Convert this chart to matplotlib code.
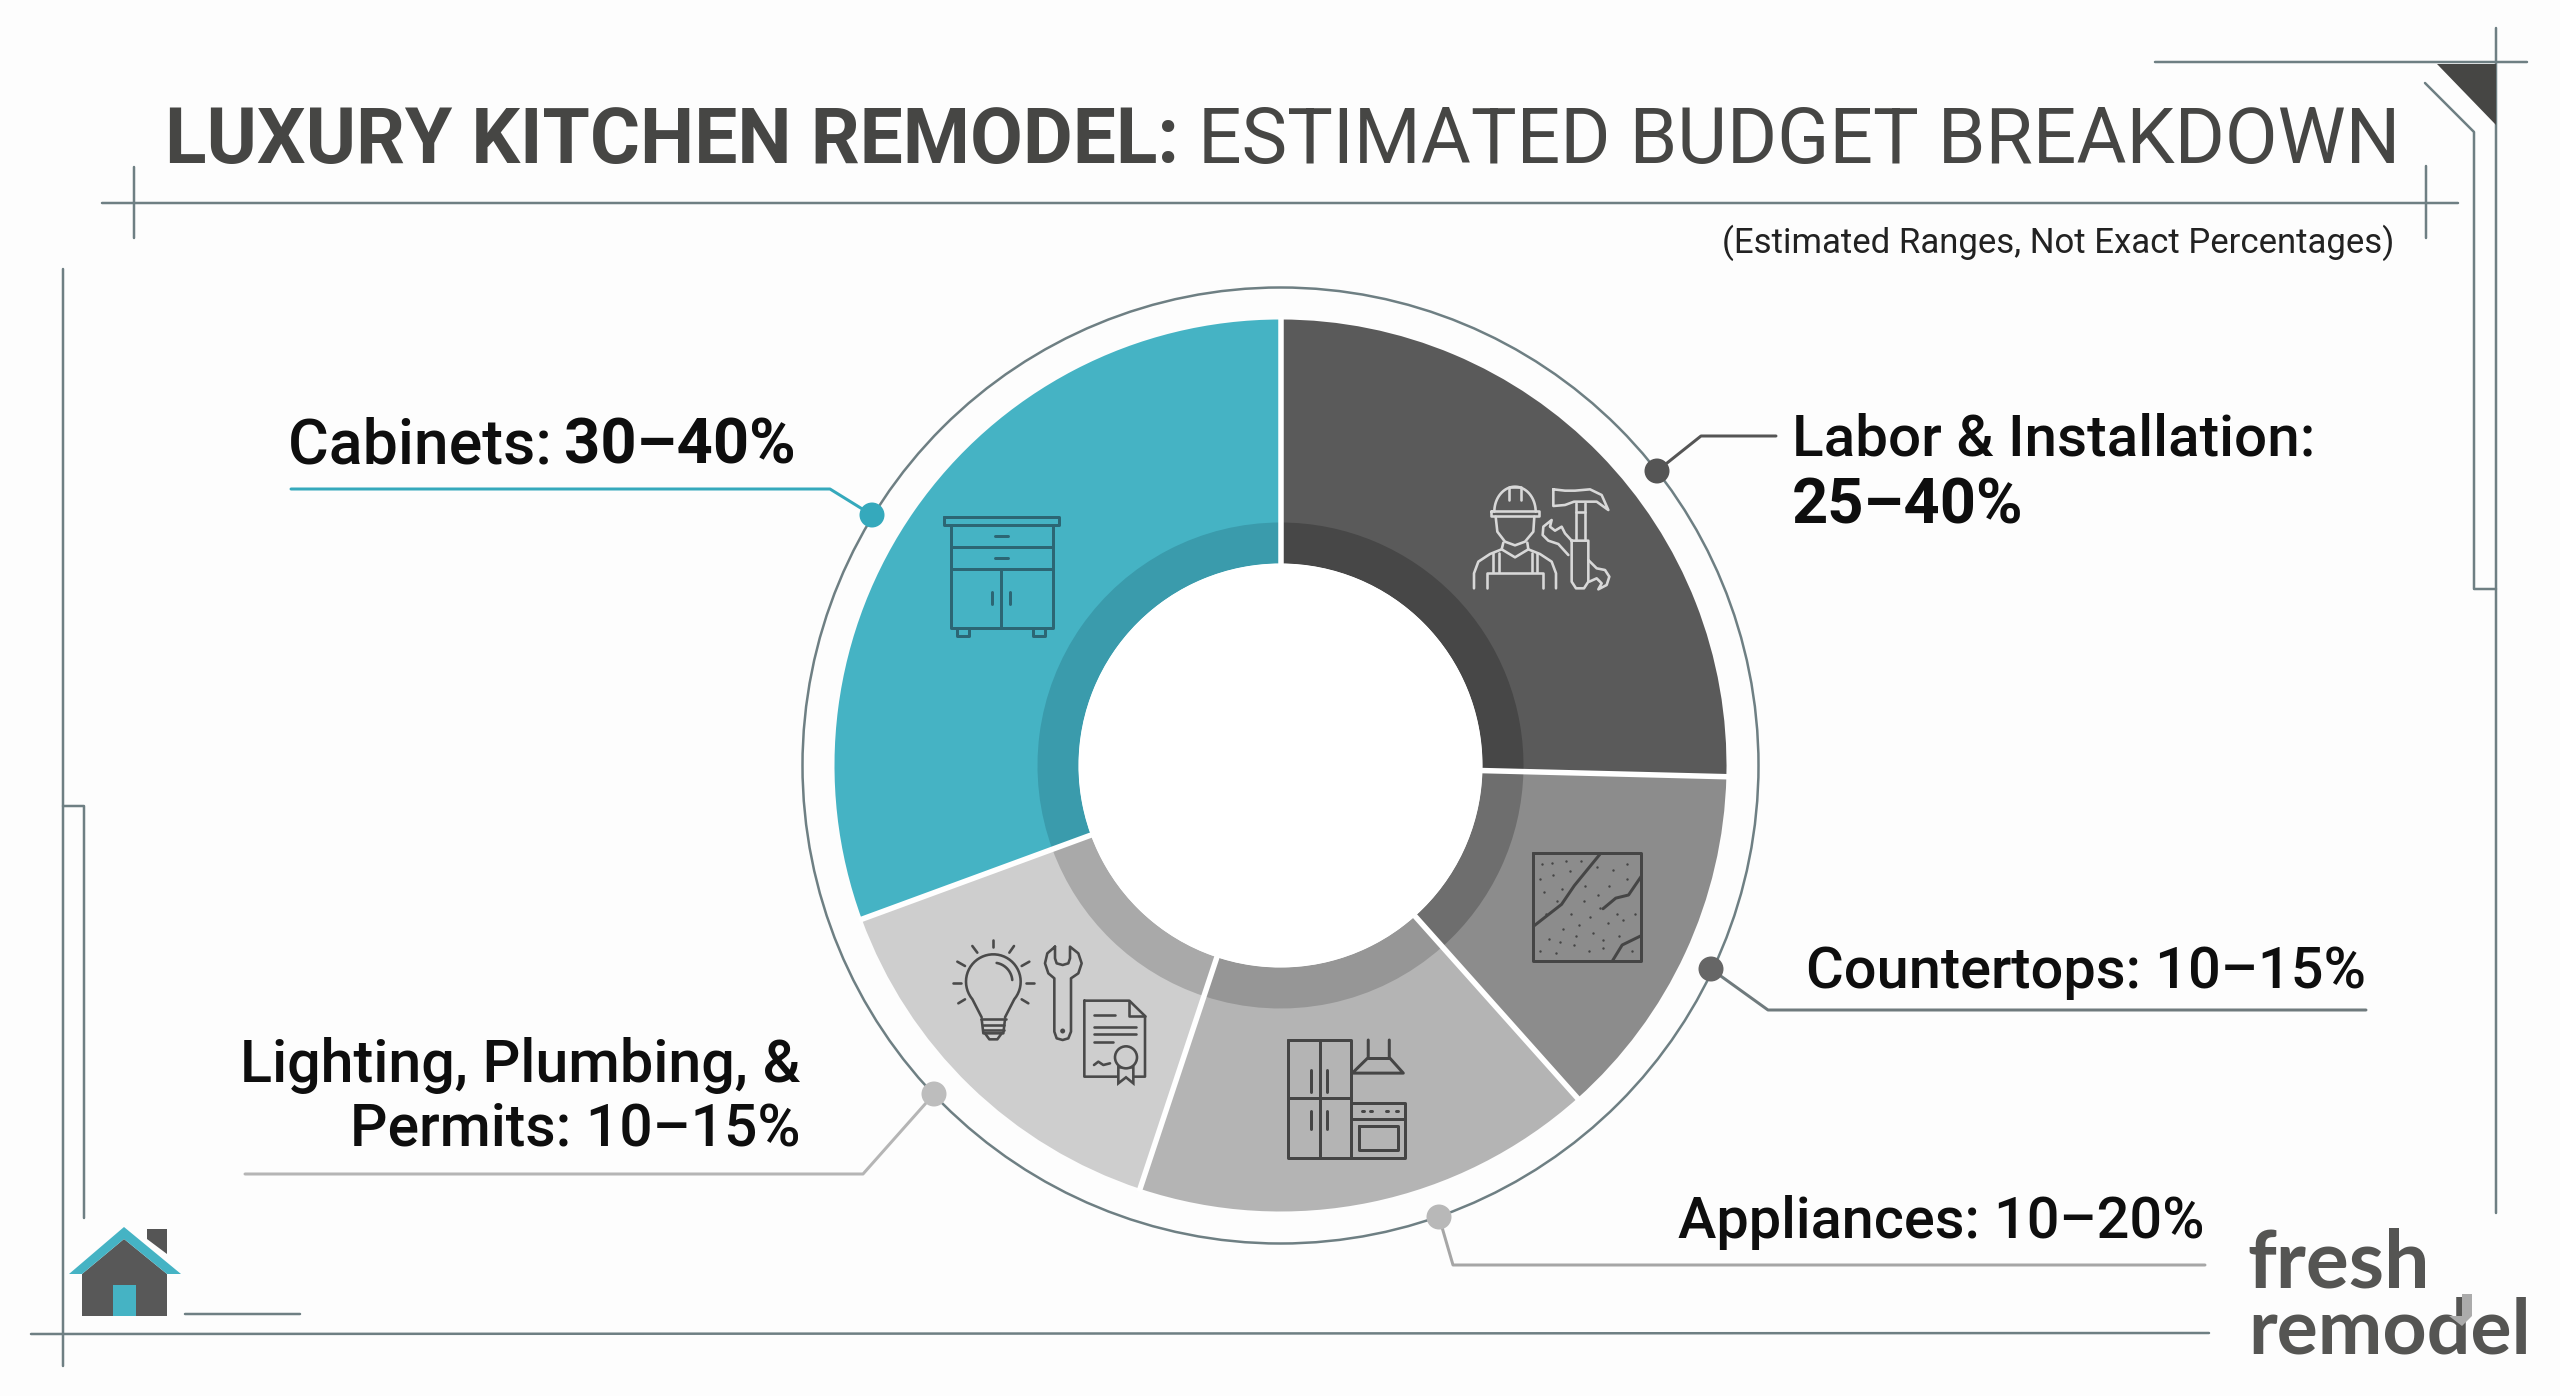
import numpy as np
import matplotlib
matplotlib.use("Agg")
import matplotlib.pyplot as plt
from matplotlib.patches import Circle, Polygon, Rectangle

W, H = 2560, 1396

categories = ["Labor & Installation", "Countertops", "Appliances", "Lighting, Plumbing, & Permits", "Cabinets"]
ranges = ["25–40%", "10–15%", "10–20%", "10–15%", "30–40%"]
# slice sizes as drawn, in percent of the ring
shares = [25.4, 13.0, 16.7, 14.3, 30.6]
slice_colors = ["#5A5A5A", "#8C8C8C", "#B4B4B4", "#CECECE", "#45B3C4"]
band_colors = ["#474747", "#6E6E6E", "#969696", "#A9A9A9", "#3A9BAC"]
dot_colors = ["#555555", "#666666", "#B8B8B8", "#BDBDBD", "#35A9BC"]
line_colors = ["#555555", "#6F7A7D", "#A6A6A6", "#B5B5B5", "#35A9BC"]

FRAME = "#6E7F83"
INK = "#464644"
TEXT = "#0E0E0E"
CX, CY = 1280.5, 765.5
R_OUT, R_BAND, R_HOLE = 446, 243, 202


def yy(y):
    return H - y


fig = plt.figure(figsize=(W / 100, H / 100), dpi=100, facecolor="#FDFDFD")
ax = fig.add_axes([0, 0, 1, 1])
px = 0.72  # points per pixel at this dpi


def path(pts, color=FRAME, w=2.5, z=2, closed=False):
    pts = list(pts)
    if closed:
        pts = pts + [pts[0]]
    xs = [p[0] for p in pts]
    ys = [yy(p[1]) for p in pts]
    ax.plot(xs, ys, color=color, lw=w * px, zorder=z, solid_capstyle="round", solid_joinstyle="round")


# the ring itself: slices, darker inner band, white cuts between slices
center = (CX, yy(CY))
ax.pie(shares, colors=slice_colors, startangle=90, counterclock=False, center=center, radius=R_OUT,
       wedgeprops=dict(width=R_OUT - R_HOLE, edgecolor="none", zorder=3), frame=True)
ax.pie(shares, colors=band_colors, startangle=90, counterclock=False, center=center, radius=R_BAND,
       wedgeprops=dict(width=R_BAND - R_HOLE, edgecolor="none", zorder=3.1), frame=True)
ax.add_patch(Circle(center, R_HOLE, fc="white", ec="none", zorder=3.2))
ax.add_patch(Circle(center, 478, fc="none", ec=FRAME, lw=2.5 * px, zorder=2))
cuts = np.radians(90 - 3.6 * np.cumsum(shares))
for a in cuts:
    ax.plot([CX + (R_HOLE - 2) * np.cos(a), CX + (R_OUT + 3) * np.cos(a)],
            [yy(CY) + (R_HOLE - 2) * np.sin(a), yy(CY) + (R_OUT + 3) * np.sin(a)],
            color="white", lw=5.5 * px, zorder=3.3, solid_capstyle="butt")

ax.set_xlim(0, W)
ax.set_ylim(0, H)
ax.axis("off")

# frame lines around the page
path([(102, 203), (2458, 203)])
path([(134, 167), (134, 238)])
path([(2426, 166), (2426, 238)])
path([(2155, 62), (2527, 62)])
path([(2496, 28), (2496, 1213)])
path([(2425, 83), (2474, 132), (2474, 589), (2496, 589)])
ax.add_patch(Polygon([(2437, yy(64)), (2496, yy(64)), (2496, yy(125))], fc=INK, ec="none", zorder=3))
path([(63, 269), (63, 1366)])
path([(31, 1334), (2209, 1333)])
path([(63, 806), (84, 806), (84, 1218)])
path([(185, 1314), (300, 1314)])

# house badge
ax.add_patch(Polygon([(147, yy(1229)), (167, yy(1229)), (167, yy(1254)), (147, yy(1239))], fc="#555555", ec="none", zorder=3))
ax.add_patch(Polygon([(82, yy(1274)), (124, yy(1239)), (167, yy(1274)), (167, yy(1316)), (82, yy(1316))], fc="#585858", ec="none", zorder=3))
ax.add_patch(Polygon([(69, yy(1274)), (124, yy(1227)), (181, yy(1274)), (167, yy(1274)), (124, yy(1239)), (82, yy(1274))], fc="#45B3C4", ec="none", zorder=3.1))
ax.add_patch(Rectangle((113, yy(1316)), 23, 31, fc="#45B3C4", ec="none", zorder=3.1))

# leader lines, same order as the categories
leaders = [
    [(1657, 471), (1701, 436), (1776, 436)],
    [(1711, 969), (1768, 1010), (2366, 1010)],
    [(1439, 1217), (1453, 1265), (2205, 1265)],
    [(934, 1094), (863, 1174), (245, 1174)],
    [(872, 515), (830, 489), (291, 489)],
]
for pts, lc, dc in zip(leaders, line_colors, dot_colors):
    path(pts, color=lc, w=3, z=2.5)
    ax.add_patch(Circle((pts[0][0], yy(pts[0][1])), 12.5, fc=dc, ec="none", zorder=4))

# icons are laid out on their own small grids over the ring
grid = (780, 270, 0.638, 0.625)


def ic(pts, color, w=2.6, closed=False):
    ox, oy, sx, sy = grid
    path([(ox + x * sx, oy + y * sy) for x, y in pts], color=color, w=w, z=5, closed=closed)


def box(x0, y0, x1, y1, color, w=2.6):
    ic([(x0, y0), (x1, y0), (x1, y1), (x0, y1)], color, w, closed=True)


def arc(cx, cy, rx, ry, a0, a1, n=40):
    t = np.radians(np.linspace(a0, a1, n))
    return list(zip(cx + rx * np.cos(t), cy - ry * np.sin(t)))


def dot(x, y, r, fc, ec="none", w=0):
    ox, oy, sx, sy = grid
    ax.add_patch(Circle((ox + x * sx, yy(oy + y * sy)), r, fc=fc, ec=ec, lw=w * px, zorder=5.5))


# cabinet
c = "#2C6674"
box(257, 395, 437, 408, c, 3)
box(268, 408, 428, 572, c, 3)
ic([(268, 443), (428, 443)], c, 3)
ic([(268, 478), (428, 478)], c, 3)
ic([(337, 425), (358, 425)], c, 3)
ic([(337, 461), (358, 461)], c, 3)
ic([(347, 478), (347, 572)], c, 3)
ic([(332, 515), (332, 535)], c, 3)
ic([(360, 515), (360, 535)], c, 3)
box(278, 572, 297, 585, c, 3)
box(397, 572, 416, 585, c, 3)

# stone tile
c = "#454545"
box(1181, 933, 1350, 1105, c, 3)
ic([(1181, 1050), (1225, 1015), (1245, 985), (1265, 960), (1285, 935)], c, 3)
ic([(1290, 1022), (1310, 1005), (1330, 1000), (1350, 970)], c, 3)
ic([(1305, 1105), (1320, 1080), (1350, 1065)], c, 3)
speck_x = [1195, 1212, 1232, 1198, 1218, 1240, 1260, 1282, 1305, 1328, 1205, 1228, 1252, 1275, 1298, 1322, 1340, 1192, 1216, 1245, 1268, 1290, 1315, 1200, 1225, 1255, 1280, 1270, 1300, 1335, 1210, 1238, 1262, 1286, 1192, 1248, 1312, 1328, 1222, 1290]
speck_y = [950, 968, 945, 995, 1010, 1030, 1010, 1000, 960, 950, 1070, 1055, 1048, 1060, 1045, 1040, 1030, 1090, 1092, 1080, 1090, 1085, 1065, 1030, 990, 945, 955, 1035, 985, 1090, 948, 962, 985, 1020, 975, 1065, 1030, 975, 1075, 1072]
ax.scatter([780 + x * 0.638 for x in speck_x], [yy(270 + y * 0.625) for y in speck_y], s=3, color=c, linewidths=0, zorder=5)

# fridge, hood, oven
box(797, 1232, 895, 1420, c, 3)
ic([(846, 1232), (846, 1420)], c, 3)
ic([(797, 1325), (895, 1325)], c, 3)
for hx in (832, 858):
    ic([(hx, 1280), (hx, 1315)], c, 3)
    ic([(hx, 1345), (hx, 1375)], c, 3)
ic([(922, 1232), (922, 1260), (897, 1285), (977, 1285), (955, 1260), (955, 1232)], c, 3)
ic([(922, 1260), (955, 1260)], c, 3)
box(895, 1332, 980, 1420, c, 3)
ic([(895, 1358), (980, 1358)], c, 3)
box(907, 1370, 968, 1408, c, 3)
for kx in (912, 925, 950, 965):
    ic([(kx, 1345), (kx + 3, 1345)], c, 3)

# worker with hammer and wrench
grid = (1450, 470, 1 / 3, 1 / 3)
c = "#D8D8D8"
ic(arc(195, 125, 62, 75, 0, 180), c)
box(122, 124, 268, 138, c)
ic([(178, 90), (178, 52), (212, 52), (212, 90)], c)
ic([(137, 140), (142, 185), (165, 215), (195, 226), (225, 215), (250, 185), (253, 140)], c)
ic([(72, 355), (72, 310), (85, 275), (120, 252), (155, 238), (195, 262), (235, 238), (270, 252), (305, 275), (318, 310), (318, 355)], c)
ic([(160, 218), (155, 238)], c)
ic([(232, 218), (235, 238)], c)
for sx_ in (130, 148, 245, 262):
    ic([(sx_, 248), (sx_, 306)], c)
ic([(112, 355), (112, 308), (278, 308), (278, 355)], c)
ic([(310, 58), (345, 62), (375, 62), (420, 58), (455, 75), (475, 120), (440, 95), (415, 95), (372, 95), (345, 105), (310, 108)], c, closed=True)
ic([(378, 98), (378, 210)], c)
ic([(405, 98), (405, 210)], c)
ic([(378, 125), (405, 125)], c)
ic([(365, 212), (415, 212), (415, 335), (402, 355), (378, 355), (365, 335)], c, closed=True)
ic([(355, 255), (325, 222), (295, 212), (278, 195), (280, 170), (305, 150), (300, 170), (315, 182), (335, 170), (345, 190), (365, 212)], c)
ic([(415, 270), (440, 295), (465, 300), (478, 320), (470, 345), (445, 358), (455, 340), (440, 325), (418, 335)], c)

# bulb, wrench, permit
grid = (940, 930, 1 / 3, 1 / 3)
c = "#4A4A4A"
ic([(125, 262)] + arc(160, 155, 82, 82, 220, -40) + [(195, 262)], c)
ic(arc(160, 155, 57, 57, 5, 80), c)
ic([(122, 268), (198, 268)], c)
ic([(128, 285), (192, 285)], c)
ic([(128, 300), (192, 300)], c)
ic([(125, 268), (130, 310), (190, 310), (195, 268)], c)
ic([(135, 310), (148, 328), (172, 328), (185, 310)], c)
for r0, r1, r2, r3 in [(160, 30, 160, 52), (97, 48, 112, 68), (222, 48, 208, 68), (52, 95, 75, 108), (268, 95, 245, 108), (38, 158, 62, 158), (258, 158, 282, 158), (55, 220, 75, 208), (265, 220, 245, 208)]:
    ic([(r0, r1), (r2, r3)], c)
ic([(345, 50), (345, 85), (350, 100), (368, 105), (385, 100), (390, 85), (390, 50), (415, 70), (425, 100), (415, 130), (393, 145), (393, 305), (385, 325), (368, 330), (350, 325), (343, 305), (343, 145), (325, 130), (315, 100), (322, 70)], c, closed=True)
dot(368, 303, 2.5, c)
ic([(433, 212), (568, 212), (615, 258), (615, 440), (433, 440)], c, closed=True)
ic([(568, 212), (568, 258), (615, 258)], c)
ic([(462, 254), (525, 254)], c)
ic([(462, 290), (588, 290)], c)
ic([(462, 313), (588, 313)], c)
ic([(462, 337), (518, 337)], c)
ic([(462, 405), (475, 395), (490, 405), (510, 400)], c)
ox, oy, sx, sy = grid
ax.add_patch(Polygon([(ox + x * sx, yy(oy + y * sy)) for x, y in [(535, 412), (535, 460), (558, 442), (580, 460), (580, 412)]], fc="#CECECE", ec=c, lw=2.6 * px, zorder=5.4))
dot(558, 382, 11, "#CECECE", c, 2.6)


def ink_width(s, size, weight, family):
    # blanks at the end of a run have no ink, so measure against a closing dot
    r = fig.canvas.get_renderer()
    a = ax.text(0, 0, s + ".", fontsize=size, fontweight=weight, family=family)
    b = ax.text(0, 0, ".", fontsize=size, fontweight=weight, family=family)
    w = a.get_window_extent(r).width - b.get_window_extent(r).width
    a.remove()
    b.remove()
    return w


def runs(x, y, parts, size, color=TEXT, ha="left", family="Roboto"):
    # parts is a list of (string, weight) drawn one after the other from a common baseline
    total = sum(ink_width(s, size, wt, family) for s, wt in parts)
    cursor = x - total if ha == "right" else x
    for s, wt in parts:
        ax.text(cursor, yy(y), s, fontsize=size, fontweight=wt, family=family, color=color,
                ha="left", va="baseline", zorder=6)
        cursor += ink_width(s, size, wt, family)


runs(165, 163, [("LUXURY KITCHEN REMODEL: ", "bold"), ("ESTIMATED BUDGET BREAKDOWN", "normal")], 55.15, color=INK)
ax.text(2394, yy(253), "(Estimated Ranges, Not Exact Percentages)", fontsize=25, family="Roboto", color="#222222", ha="right", va="baseline", zorder=6)

runs(288, 464, [("Cabinets: ", "medium")], 45)
runs(564, 464, [(ranges[4], "bold")], 45.5)
runs(1792, 455, [("Labor & Installation:", "medium")], 42)
runs(1792, 523, [(ranges[0], "bold")], 45.5)
runs(1806, 988, [("Countertops: " + ranges[1], "medium")], 41.6)
runs(1678, 1238, [("Appliances: " + ranges[2], "medium")], 41.5)
runs(800, 1082, [("Lighting, Plumbing, &", "medium")], 42.7, ha="right")
runs(800, 1146, [("Permits: " + ranges[3], "medium")], 42.3, ha="right")

# wordmark, the upper part of the d is a paler grey
ax.text(2247, yy(1288), "fresh", fontsize=58, fontweight="bold", family="Lato", color="#555553", zorder=6)
ax.text(2248, yy(1354), "remodel", fontsize=55.5, fontweight="bold", family="Lato", color="#555553", zorder=6)
ax.add_patch(Polygon([(2462, yy(1294)), (2472, yy(1294)), (2472, yy(1316)), (2462, yy(1326)), (2449, yy(1316)), (2462, yy(1316))],
                     fc="#ABABAB", ec="none", zorder=7))

fig.savefig("out.png", dpi=100, facecolor=fig.get_facecolor())
